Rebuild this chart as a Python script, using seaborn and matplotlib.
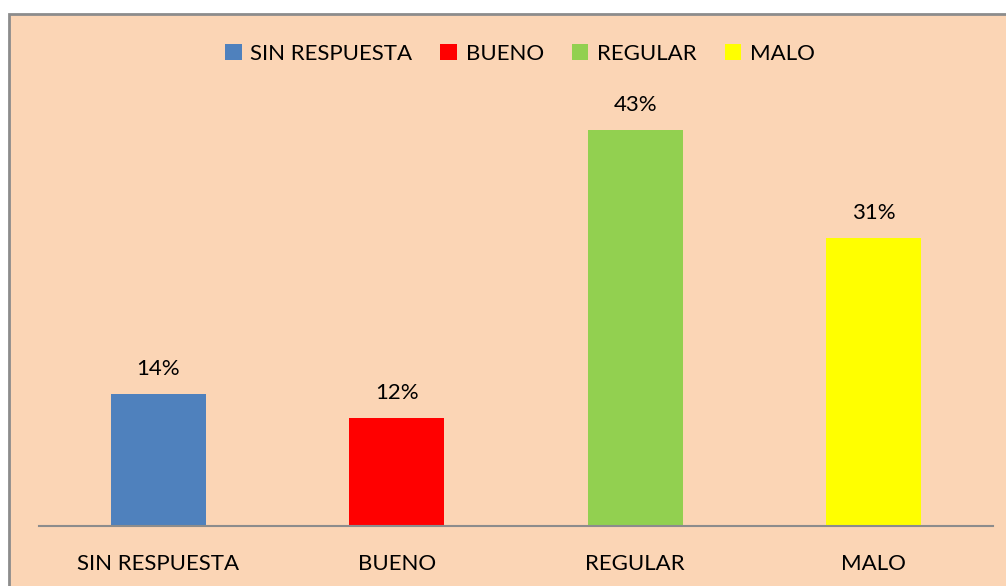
import matplotlib
matplotlib.use("Agg")
import matplotlib.pyplot as plt
import seaborn as sns
import pandas as pd
from matplotlib.patches import Rectangle, Patch

categories = ["SIN RESPUESTA", "BUENO", "REGULAR", "MALO"]
values = [0.143, 0.117, 0.429, 0.312]
colors = ["#4F81BD", "#FF0000", "#92D050", "#FFFF00"]

df = pd.DataFrame({"cat": categories, "val": values})

sns.set_theme(style="white")
plt.rcParams['font.family'] = ['Lato', 'DejaVu Sans']

bg = "#FBD5B5"
fig = plt.figure(figsize=(10.06, 5.86), dpi=100)
fig.patch.set_facecolor("white")
border = Rectangle((9/1006, -0.1), 1.2, 1 - 14/586 + 0.1, transform=fig.transFigure,
                   facecolor=bg, edgecolor="#8C8C8C", linewidth=2, zorder=-10)
fig.patches.append(border)

ax = fig.add_axes([39/1006, 60/586, 954/1006, 462/586])
ax.set_zorder(5)
ax.set_facecolor("none")
sns.barplot(data=df, x="cat", y="val", hue="cat", palette=colors, order=categories,
            hue_order=categories, width=0.4, dodge=False, legend=False, ax=ax,
            saturation=1, linewidth=0, edgecolor="none")
ax.set_ylim(0, 0.5)
ax.set_xlim(-0.5, 3.5)
for i, v in enumerate(values):
    ax.text(i, v + 0.016, f"{v*100:.0f}%", ha="center", va="bottom", fontsize=16, color="#000000")
for s in ["top", "right", "left"]:
    ax.spines[s].set_visible(False)
ax.spines["bottom"].set_color("#8C8C8C")
ax.spines["bottom"].set_linewidth(1.5)
ax.set_yticks([])
ax.set_xlabel("")
ax.set_ylabel("")
ax.tick_params(axis="x", length=0, pad=20, labelsize=16, colors="#000000")

handles = [Patch(facecolor=c, edgecolor="none") for c in colors]
leg = fig.legend(handles, categories, loc="center", bbox_to_anchor=(520/1006, 1 - 54/586),
           ncol=4, frameon=False, fontsize=16, handlelength=0.75, handleheight=0.75,
           handletextpad=0.4, columnspacing=1.25, labelcolor="#000000")
leg.set_zorder(6)

fig.savefig("out.png", dpi=100, facecolor="white")
